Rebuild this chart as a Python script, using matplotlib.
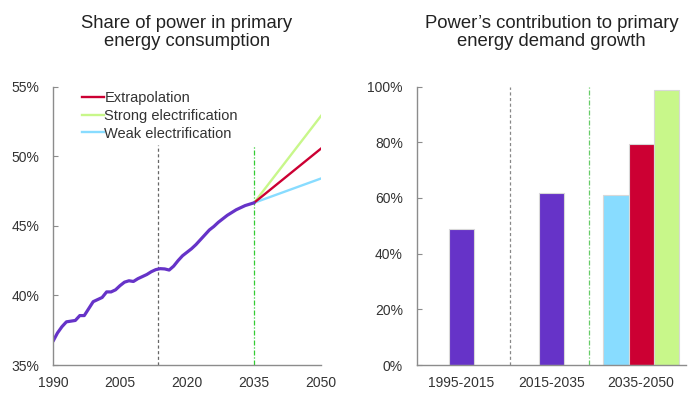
import matplotlib
matplotlib.use("Agg")
import matplotlib.pyplot as plt
from matplotlib.ticker import FuncFormatter

plt.rcParams["font.family"] = ["Liberation Sans", "DejaVu Sans"]

# Left panel: share of power in primary energy consumption (%)
years = list(range(1990, 2036))
power_share = [
    36.7, 37.3, 37.75, 38.1, 38.15, 38.2, 38.55, 38.55, 39.05, 39.55,
    39.7, 39.85, 40.25, 40.25, 40.4, 40.7, 40.95, 41.05, 41.0, 41.2,
    41.35, 41.5, 41.7, 41.85, 41.92, 41.9, 41.82, 42.1, 42.5, 42.85,
    43.1, 43.35, 43.65, 44.0, 44.35, 44.7, 44.95, 45.25, 45.5, 45.75,
    45.95, 46.15, 46.3, 46.45, 46.55, 46.65,
]
scenario_years = [2035, 2050]
extrapolation = [46.65, 50.55]
strong_elec = [46.65, 52.9]
weak_elec = [46.65, 48.4]
share_ticks = [35, 40, 45, 50, 55]
year_ticks = [1990, 2005, 2020, 2035, 2050]

# Right panel: power's contribution to primary energy demand growth (%)
periods = ["1995-2015", "2015-2035", "2035-2050"]
historical_contrib = [48.9, 61.6]
weak_contrib = 61.2
extrap_contrib = 79.3
strong_contrib = 98.8
contrib_ticks = [0, 20, 40, 60, 80, 100]

PURPLE = "#6633c8"
RED = "#cc0033"
GREEN = "#c8f78a"
BLUE = "#88dcff"
SPINE = "#8c8c8c"
TEXT = "#333333"

pct = FuncFormatter(lambda v, _: f"{v:.0f}%")

fig = plt.figure(figsize=(7.0, 3.97), dpi=100)
ax1 = fig.add_axes([0.0757, 0.0806, 0.383, 0.7014])
ax2 = fig.add_axes([0.5953, 0.0806, 0.3847, 0.7014])

for ax in (ax1, ax2):
    for side in ("top", "right"):
        ax.spines[side].set_visible(False)
    for side in ("left", "bottom"):
        ax.spines[side].set_color(SPINE)
        ax.spines[side].set_linewidth(1.0)
    ax.tick_params(axis="y", direction="in", length=3.5, width=0.8,
                   color=SPINE, labelsize=10, labelcolor=TEXT, pad=10)
    ax.tick_params(axis="x", length=0, labelsize=10, labelcolor=TEXT, pad=8)
    ax.yaxis.set_major_formatter(pct)

# ---- left chart
ax1.axvline(2013.5, ymax=0.79, color="#666666", lw=0.9, ls=(0, (2.5, 2)))
ax1.axvline(2035, ymax=0.79, color="#33cc33", lw=0.9, ls=(0, (4, 1.5, 1, 1.5)))
ax1.plot(scenario_years, weak_elec, color=BLUE, lw=1.7, label="Weak electrification")
ax1.plot(scenario_years, strong_elec, color=GREEN, lw=1.7, label="Strong electrification")
ax1.plot(scenario_years, extrapolation, color=RED, lw=1.7, label="Extrapolation")
ax1.plot(years, power_share, color=PURPLE, lw=2.3, solid_capstyle="round")
ax1.set_xlim(1990, 2050)
ax1.set_ylim(35, 55)
ax1.set_xticks(year_ticks)
ax1.set_yticks(share_ticks)
handles, labels = ax1.get_legend_handles_labels()
ax1.legend(handles[::-1], labels[::-1], loc="upper left",
           bbox_to_anchor=(0.11, 0.985), frameon=False, fontsize=10.5,
           handlelength=1.45, handletextpad=0.05, labelspacing=0.27,
           borderaxespad=0, labelcolor=TEXT, borderpad=0)
ax1.set_title("Share of power in primary\nenergy consumption",
              fontsize=13.3, color="#222222", pad=29, linespacing=1.12)

# ---- right chart
w = 0.28
ax2.bar([0, 1], historical_contrib, width=w, color=PURPLE,
        edgecolor="#d8d8d8", linewidth=0.8)
ax2.bar([2 - w, 2, 2 + w], [weak_contrib, extrap_contrib, strong_contrib],
        width=w, color=[BLUE, RED, GREEN], edgecolor="#d8d8d8", linewidth=0.8)
ax2.axvline(0.54, color="#888888", lw=0.9, ls=(0, (2.5, 2)))
ax2.axvline(1.42, color="#66cc66", lw=0.9, ls=(0, (4, 1.5, 1, 1.5)))
ax2.set_xlim(-0.5, 2.5)
ax2.set_ylim(0, 100)
ax2.set_xticks(range(len(periods)))
ax2.set_xticklabels(periods)
ax2.set_yticks(contrib_ticks)
ax2.set_title("Power\u2019s contribution to primary\nenergy demand growth",
              fontsize=13.3, color="#222222", pad=29, linespacing=1.12)

fig.savefig("out.png", dpi=100)
